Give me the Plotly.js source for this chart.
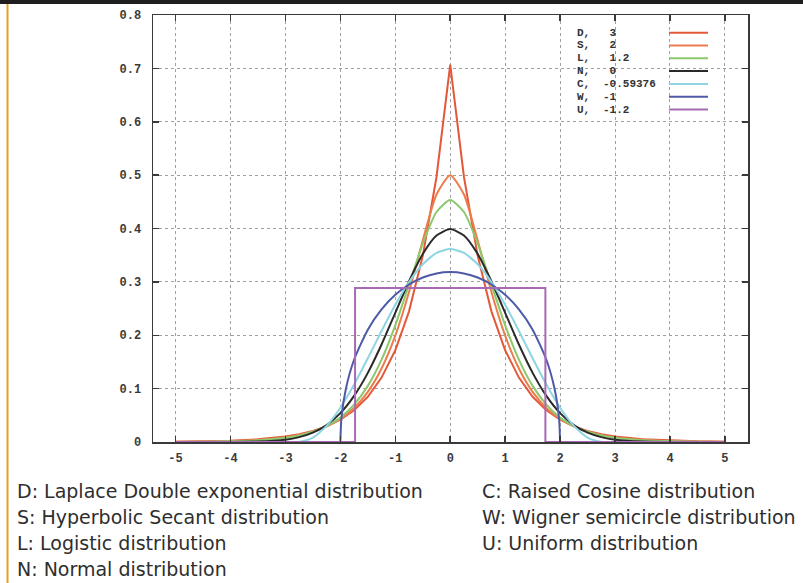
<!DOCTYPE html>
<html>
<head>
<meta charset="utf-8">
<script src="https://cdn.plot.ly/plotly-3.0.1.min.js"></script>
<style>
html,body{margin:0;padding:0;background:#fff;}
#chart{width:803px;height:583px;}
</style>
</head>
<body>
<div id="chart"></div>
<script>
// ---- data ----
const xGrid = [-5,-4.5,-4,-3.5,-3,-2.75,-2.5,-2.25,-2,-1.75,-1.5,-1.25,-1,-0.75,-0.5,-0.25,0,0.25,0.5,0.75,1,1.25,1.5,1.75,2,2.25,2.5,2.75,3,3.5,4,4.5,5];
const laplaceD = [0.0006,0.0012,0.0025,0.0050,0.0102,0.0145,0.0206,0.0293,0.0418,0.0595,0.0848,0.1207,0.1719,0.2448,0.3487,0.4965,0.7071,0.4965,0.3487,0.2448,0.1719,0.1207,0.0848,0.0595,0.0418,0.0293,0.0206,0.0145,0.0102,0.0050,0.0025,0.0012,0.0006];
const secantS = [0.0004,0.0009,0.0019,0.0041,0.0090,0.0133,0.0197,0.0292,0.0431,0.0637,0.0939,0.1377,0.1993,0.2812,0.3775,0.4638,0.5000,0.4638,0.3775,0.2812,0.1993,0.1377,0.0939,0.0637,0.0431,0.0292,0.0197,0.0133,0.0090,0.0041,0.0019,0.0009,0.0004];
const logisticL = [0.0002,0.0005,0.0013,0.0032,0.0078,0.0122,0.0191,0.0296,0.0457,0.0699,0.1051,0.1543,0.2186,0.2947,0.3717,0.4309,0.4534,0.4309,0.3717,0.2947,0.2186,0.1543,0.1051,0.0699,0.0457,0.0296,0.0191,0.0122,0.0078,0.0032,0.0013,0.0005,0.0002];
const normalN = [0.0000,0.0000,0.0001,0.0009,0.0044,0.0091,0.0175,0.0317,0.0540,0.0863,0.1295,0.1826,0.2420,0.3011,0.3521,0.3867,0.3989,0.3867,0.3521,0.3011,0.2420,0.1826,0.1295,0.0863,0.0540,0.0317,0.0175,0.0091,0.0044,0.0009,0.0001,0.0000,0.0000];
const cosineX = [-5,-2.766,-2.5,-2.25,-2,-1.75,-1.5,-1.25,-1,-0.75,-0.5,-0.25,0,0.25,0.5,0.75,1,1.25,1.5,1.75,2,2.25,2.5,2.766,5];
const cosineC = [0,0,0.0082,0.0301,0.0642,0.1076,0.1568,0.2080,0.2571,0.2998,0.3331,0.3543,0.3615,0.3543,0.3331,0.2998,0.2571,0.2080,0.1568,0.1076,0.0642,0.0301,0.0082,0,0];
const wignerX = [-2,-1.98,-1.9,-1.75,-1.5,-1.25,-1,-0.75,-0.5,-0.25,0,0.25,0.5,0.75,1,1.25,1.5,1.75,1.9,1.98,2];
const wignerW = [0,0.0449,0.0994,0.1541,0.2105,0.2485,0.2757,0.2951,0.3082,0.3158,0.3183,0.3158,0.3082,0.2951,0.2757,0.2485,0.2105,0.1541,0.0994,0.0449,0];
const uniformX = [-5,-1.7321,-1.7321,1.7321,1.7321,5];
const uniformU = [0,0,0.2887,0.2887,0,0];

const legendKeys = ["D,","S,","L,","N,","C,","W,","U,"];
const legendValues = [" 3"," 2"," 1.2"," 0","-0.59376","-1","-1.2"];
const seriesColors = ["#e4583a","#ec7c4c","#8cc86c","#2a2a2a","#8ed4e2","#4e5aa8","#a86ab4"];
const xTickVals = [-5,-4,-3,-2,-1,0,1,2,3,4,5];
const xTickText = ["-5","-4","-3","-2","-1","0","1","2","3","4","5"];
const yTickVals = [0,0.1,0.2,0.3,0.4,0.5,0.6,0.7,0.8];
const yTickText = ["0","0.1","0.2","0.3","0.4","0.5","0.6","0.7","0.8"];
const notesLeft = ["D: Laplace Double exponential distribution","S: Hyperbolic Secant distribution","L: Logistic distribution","N: Normal distribution"];
const notesRight = ["C: Raised Cosine distribution","W: Wigner semicircle distribution","U: Uniform distribution"];

// ---- layout geometry (pixels) ----
const W = 803, H = 583;
const L = 153, R = 748, T = 15, B = 442;
const px = v => (v - L) / (R - L);
const py = v => (B - v) / (B - T);

const series = [
  {x: xGrid, y: laplaceD, shape: 'linear'},
  {x: xGrid, y: secantS, shape: 'spline'},
  {x: xGrid, y: logisticL, shape: 'spline'},
  {x: xGrid, y: normalN, shape: 'spline'},
  {x: cosineX, y: cosineC, shape: 'spline'},
  {x: wignerX, y: wignerW, shape: 'spline'},
  {x: uniformX, y: uniformU, shape: 'linear'}
];
const traces = series.map((s, i) => ({
  type: 'scatter', mode: 'lines', x: s.x, y: s.y, name: legendKeys[i] + legendValues[i],
  line: {color: seriesColors[i], width: 2, shape: s.shape, smoothing: 0.6},
  hoverinfo: 'skip', cliponaxis: true
}));

const monoFam = 'Liberation Mono, DejaVu Sans Mono, monospace';
const monoFont = {family: monoFam, size: 12, color: '#3a3a3a', weight: 'bold'};

const annotations = [];
const shapes = [];
// legend: key column, value column, sample lines
const legFont = {family: monoFam, size: 11, color: '#333', weight: 'bold'};
legendKeys.forEach((k, i) => {
  const yy = 32.7 + i * 12.8;
  annotations.push({xref: 'paper', yref: 'paper', x: px(576), y: py(yy), xanchor: 'left', yanchor: 'middle',
    text: k, showarrow: false, font: legFont, borderpad: 0});
  annotations.push({xref: 'paper', yref: 'paper', x: px(602), y: py(yy), xanchor: 'left', yanchor: 'middle',
    text: legendValues[i].replace(/ /g, '&nbsp;'), showarrow: false, font: legFont, borderpad: 0});
  shapes.push({type: 'line', xref: 'paper', yref: 'paper', x0: px(669), x1: px(708), y0: py(yy), y1: py(yy),
    line: {color: seriesColors[i], width: 2}});
});
// notes below the chart
const noteFont = {family: 'DejaVu Sans, Noto Sans, sans-serif', size: 19, color: '#2e2e2e'};
const noteRows = [491, 517, 543, 568.5];
notesLeft.forEach((t, i) => {
  annotations.push({xref: 'paper', yref: 'paper', x: px(16), y: py(noteRows[i]), xanchor: 'left', yanchor: 'middle',
    text: t, showarrow: false, font: noteFont, borderpad: 0});
});
notesRight.forEach((t, i) => {
  annotations.push({xref: 'paper', yref: 'paper', x: px(481), y: py(noteRows[i]), xanchor: 'left', yanchor: 'middle',
    text: t, showarrow: false, font: noteFont, borderpad: 0});
});
// frame decorations: black top bar, orange left rule
shapes.push({type: 'rect', xref: 'paper', yref: 'paper', x0: px(0), x1: px(803), y0: py(0), y1: py(4),
  fillcolor: '#1e1e1e', line: {width: 0}, layer: 'above'});
shapes.push({type: 'line', xref: 'paper', yref: 'paper', x0: px(7.5), x1: px(7.5), y0: py(4), y1: py(583),
  line: {color: '#e8a020', width: 2}, layer: 'above'});

const axisCommon = {
  showline: true, linecolor: '#3a3a3a', linewidth: 1.5, mirror: 'ticks',
  ticks: 'inside', ticklen: 6, tickwidth: 1.5, tickcolor: '#3a3a3a',
  showgrid: true, gridcolor: '#a0a0a0', gridwidth: 1, griddash: 'dot',
  zeroline: false, tickmode: 'array', tickfont: monoFont, fixedrange: true
};

const layout = {
  width: W, height: H,
  margin: {l: L, r: W - R, t: T, b: H - B, pad: 0},
  paper_bgcolor: '#ffffff', plot_bgcolor: '#ffffff',
  showlegend: false,
  xaxis: Object.assign({}, axisCommon, {range: [-5.41, 5.42], tickvals: xTickVals, ticktext: xTickText, ticklabelstandoff: 4}),
  yaxis: Object.assign({}, axisCommon, {range: [0, 0.8], tickvals: yTickVals, ticktext: yTickText, ticklabelstandoff: 8}),
  annotations: annotations,
  shapes: shapes
};

Plotly.newPlot('chart', traces, layout, {staticPlot: true, displayModeBar: false});
</script>
</body>
</html>
